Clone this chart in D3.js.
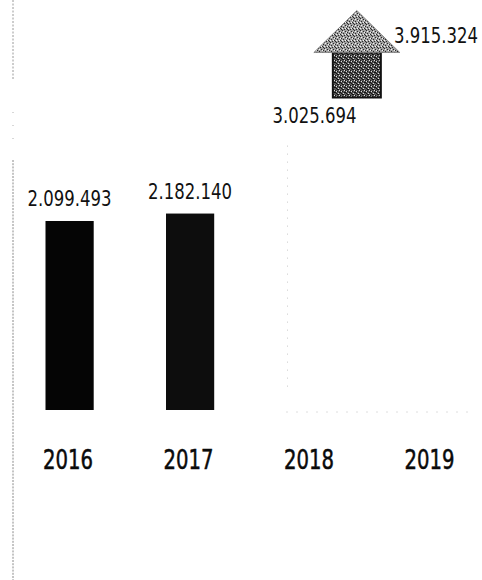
<!DOCTYPE html>
<html>
<head>
<meta charset="utf-8">
<script src="https://cdn.jsdelivr.net/npm/d3@7"></script>
<style>
  html, body { margin: 0; padding: 0; background: #fff; }
  svg { display: block; }
</style>
</head>
<body>
<svg id="chart" width="482" height="580"></svg>
<script>
// ---- data ----
const years = ["2016", "2017", "2018", "2019"];
const values = [2099493, 2182140, 3025694, 3915324];
const valueLabels = ["2.099.493", "2.182.140", "3.025.694", "3.915.324"];
const barColors = ["#050505", "#0d0d0d", "#ffffff", "#ffffff"];

const svg = d3.select("#chart");

const x = d3.scaleBand().domain(years).range([45.5, 455.2]).paddingInner(0.6).paddingOuter(0);
const y = d3.scaleLinear().domain([0, 4000000]).range([410, 49.9]);

// stipple patterns for the arrow
const defs = svg.append("defs");
const pHead = defs.append("pattern").attr("id", "stipHead").attr("patternUnits", "userSpaceOnUse")
  .attr("width", 6).attr("height", 6);
pHead.append("rect").attr("width", 6).attr("height", 6).attr("fill", "#a0a0a0");
[[0,0],[3,1],[1,3],[4,4],[2,5],[5,2],[5,5]].forEach(([a,b]) =>
  pHead.append("rect").attr("x", a).attr("y", b).attr("width", 1).attr("height", 1).attr("fill", "#2a2a2a"));
[[1,1],[4,2],[0,4],[3,4]].forEach(([a,b]) =>
  pHead.append("rect").attr("x", a).attr("y", b).attr("width", 1).attr("height", 1).attr("fill", "#f4f4f4"));
const pShaft = defs.append("pattern").attr("id", "stipShaft").attr("patternUnits", "userSpaceOnUse")
  .attr("width", 5).attr("height", 5);
pShaft.append("rect").attr("width", 5).attr("height", 5).attr("fill", "#555");
[[0,0],[2,1],[4,2],[1,3],[3,4],[0,2],[2,4]].forEach(([a,b]) =>
  pShaft.append("rect").attr("x", a).attr("y", b).attr("width", 1).attr("height", 1).attr("fill", "#111"));
[[1,1],[3,3],[4,0]].forEach(([a,b]) =>
  pShaft.append("rect").attr("x", a).attr("y", b).attr("width", 1).attr("height", 1).attr("fill", "#e0e0e0"));

// left scan edge (dotted)
svg.append("line").attr("x1", 13).attr("x2", 13).attr("y1", 0).attr("y2", 80)
  .attr("stroke", "#9a9a9a").attr("stroke-width", 1).attr("stroke-dasharray", "2,1.5");
svg.append("line").attr("x1", 13).attr("x2", 13).attr("y1", 112).attr("y2", 150)
  .attr("stroke", "#b0b0b0").attr("stroke-width", 1).attr("stroke-dasharray", "1,12");
svg.append("line").attr("x1", 13).attr("x2", 13).attr("y1", 160).attr("y2", 580)
  .attr("stroke", "#8a8a8a").attr("stroke-width", 1).attr("stroke-dasharray", "2,1.2");

// bars
svg.selectAll("rect.bar").data(years).join("rect")
  .attr("class", "bar")
  .attr("x", d => x(d))
  .attr("width", x.bandwidth())
  .attr("y", (d, i) => y(values[i]))
  .attr("height", (d, i) => y(0) - y(values[i]))
  .attr("fill", (d, i) => barColors[i]);

// faint dotted outline of the light bars
svg.append("line").attr("x1", x("2018") + 1).attr("x2", x("2018") + 1)
  .attr("y1", y(values[2]) + 8).attr("y2", y(0) - 20)
  .attr("stroke", "#c8c8c8").attr("stroke-width", 1).attr("stroke-dasharray", "1,7");
svg.append("line").attr("x1", x("2018")).attr("x2", x("2019") + x.bandwidth() + 20)
  .attr("y1", y(0) + 2).attr("y2", y(0) + 2)
  .attr("stroke", "#bcbcbc").attr("stroke-width", 1).attr("stroke-dasharray", "1,9");

// growth arrow between 2018 and 2019
const ax = (x("2018") + x.bandwidth() + x("2019")) / 2 - 14;
const tipY = y(values[3]) - 47;
const headY = y(values[3]) - 5;
const shaftB = y(values[3]) + 40;
svg.append("path")
  .attr("d", `M${ax - 24},${headY} L${ax + 24},${headY} L${ax + 24},${shaftB} L${ax - 24},${shaftB} Z`)
  .attr("fill", "url(#stipShaft)").attr("stroke", "#111").attr("stroke-width", 2);
svg.append("path")
  .attr("d", `M${ax},${tipY} L${ax + 43},${headY} L${ax - 43},${headY} Z`)
  .attr("fill", "url(#stipHead)").attr("stroke", "#777").attr("stroke-width", 0.8);

// helper: squeeze a text horizontally to a target width around its centre
function squeeze(sel, cx, cy, target) {
  sel.each(function(d, i) {
    const t = d3.select(this).attr("x", 0).attr("y", 0);
    const len = this.getComputedTextLength() || target;
    t.attr("transform", `translate(${cx(d, i)},${cy(d, i)}) scale(${target / len},1)`);
  });
}

// value labels
const labelDx = [0, 0, 4, 5];
const vals = svg.selectAll("text.val").data(years).join("text")
  .attr("class", "val")
  .attr("text-anchor", "middle")
  .attr("font-family", "'DejaVu Sans Condensed', 'DejaVu Sans', sans-serif")
  .attr("font-size", 21)
  .attr("fill", "#111")
  .text((d, i) => valueLabels[i]);
squeeze(vals, (d, i) => x(d) + x.bandwidth() / 2 + labelDx[i], (d, i) => y(values[i]) - 14.5, 84);

// x axis year labels
const yrs = svg.selectAll("text.yr").data(years).join("text")
  .attr("class", "yr")
  .attr("text-anchor", "middle")
  .attr("font-family", "'DejaVu Sans Condensed', 'DejaVu Sans', sans-serif")
  .attr("font-weight", "normal")
  .attr("font-size", 27)
  .attr("fill", "#0a0a0a")
  .attr("stroke", "#0a0a0a")
  .attr("stroke-width", 0.5)
  .text(d => d);
squeeze(yrs, d => x(d) + x.bandwidth() / 2 - 1.5, () => 469, 50);
</script>
</body>
</html>
